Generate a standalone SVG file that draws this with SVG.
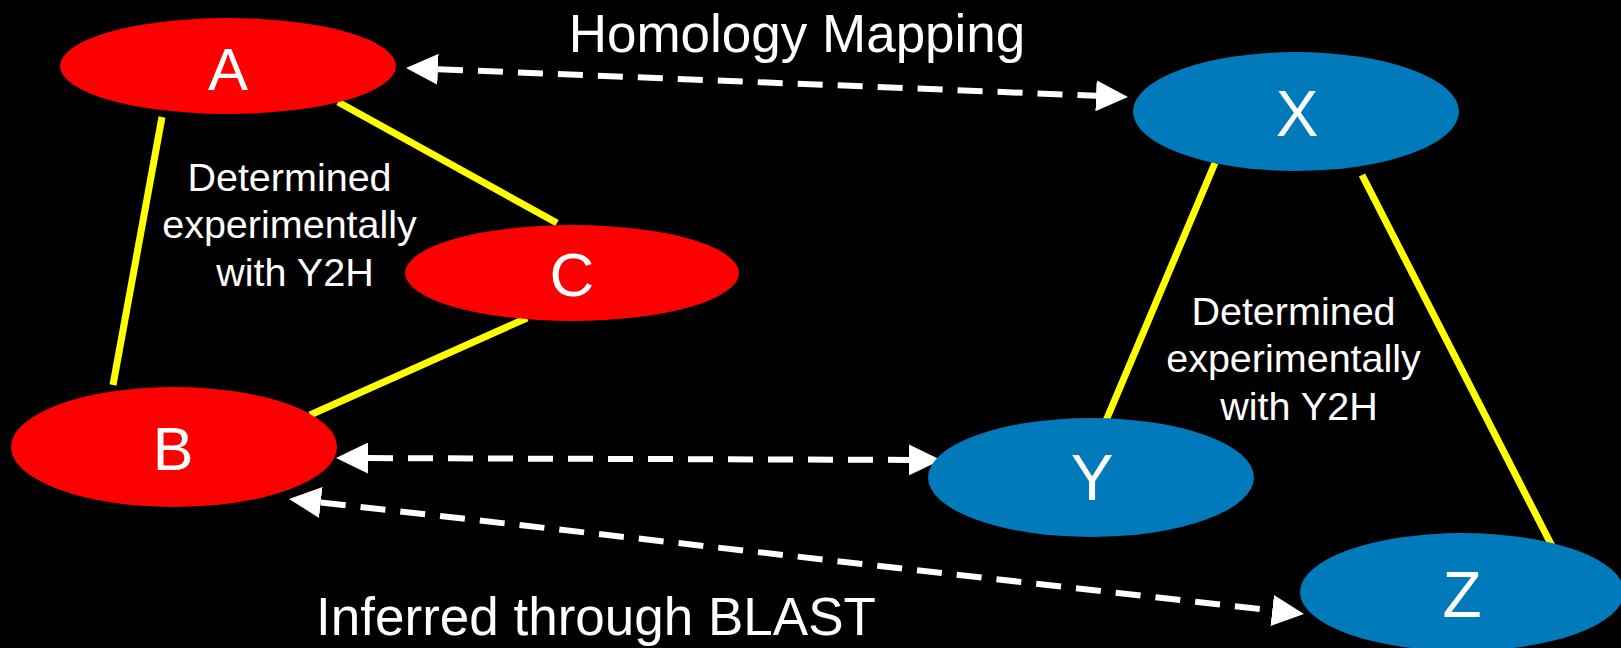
<svg xmlns="http://www.w3.org/2000/svg" width="1621" height="648" viewBox="0 0 1621 648">
  <defs>
    <marker id="head" markerUnits="userSpaceOnUse" markerWidth="32" markerHeight="31" refX="0" refY="15.5" orient="auto-start-reverse" viewBox="0 0 32 31">
      <path d="M0,0 L32,15.5 L0,31 z" fill="#FFFFFF"/>
    </marker>
  </defs>
  <style>
    .red { fill: #FF0000; }
    .blue { fill: #007ABA; }
    .node { font-family: "Liberation Sans", Arial, sans-serif; fill: #FFFFFF; text-anchor: middle; }
    .label { font-family: "Liberation Sans", Arial, sans-serif; fill: #FFFFFF; text-anchor: middle; }
    .edge { stroke: #FFFF00; stroke-width: 7; fill: none; }
    .hom { stroke: #FFFFFF; stroke-width: 6; stroke-dasharray: 25 15; fill: none; marker-start: url(#head); marker-end: url(#head); }
  </style>
  <rect x="0" y="0" width="1621" height="648" fill="#000000"/>

  <g id="connectors">
    <line class="edge" x1="162" y1="117" x2="113" y2="385"/>
    <line class="edge" x1="338" y1="102" x2="557" y2="223"/>
    <line class="edge" x1="527" y1="318" x2="310" y2="415"/>
    <line class="edge" x1="1215" y1="163" x2="1105" y2="423"/>
    <line class="edge" x1="1362" y1="175" x2="1552" y2="546"/>
    <line class="hom" x1="438" y1="69.2" x2="1096" y2="95.8"/>
    <line class="hom" x1="368" y1="458.1" x2="909" y2="459.9"/>
    <line class="hom" x1="320.8" y1="502.5" x2="1272.2" y2="610.5"/>
  </g>

  <g id="node-A">
    <ellipse class="red" cx="228" cy="66" rx="168" ry="48"/>
    <text class="node" x="228" y="90" font-size="60">A</text>
  </g>
  <g id="node-C">
    <ellipse class="red" cx="572" cy="273" rx="167" ry="48"/>
    <text class="node" x="572" y="296" font-size="62">C</text>
  </g>
  <g id="node-B">
    <ellipse class="red" cx="174" cy="447" rx="163" ry="60"/>
    <text class="node" x="173" y="470" font-size="61">B</text>
  </g>
  <g id="node-X">
    <ellipse class="blue" cx="1296" cy="111.5" rx="163" ry="59.5"/>
    <text class="node" x="1297" y="136" font-size="64">X</text>
  </g>
  <g id="node-Y">
    <ellipse class="blue" cx="1091" cy="477.5" rx="163" ry="59.5"/>
    <text class="node" x="1092" y="500" font-size="64">Y</text>
  </g>
  <g id="node-Z">
    <ellipse class="blue" cx="1462" cy="592" rx="162" ry="59"/>
    <text class="node" x="1462" y="617" font-size="64">Z</text>
  </g>

  <g id="labels">
    <text class="label" x="797" y="52" font-size="53">Homology Mapping</text>
    <text class="label" x="596" y="635" font-size="53">Inferred through BLAST</text>
    <text class="label" font-size="39.5">
      <tspan x="295" y="191">Determined</tspan>
      <tspan x="295" y="238">experimentally</tspan>
      <tspan x="295" y="286">with Y2H</tspan>
    </text>
    <text class="label" font-size="39.5">
      <tspan x="1299" y="325">Determined</tspan>
      <tspan x="1299" y="372">experimentally</tspan>
      <tspan x="1299" y="420">with Y2H</tspan>
    </text>
  </g>
</svg>
